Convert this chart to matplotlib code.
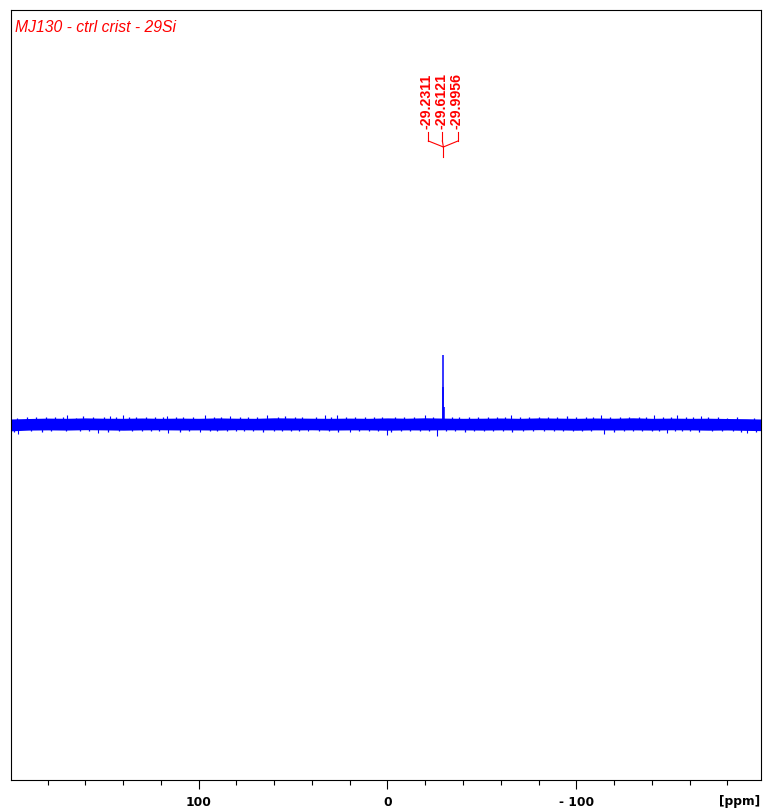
import matplotlib
matplotlib.use('Agg')
import matplotlib.pyplot as plt
import matplotlib.transforms as mtransforms

# ---- data (ppm, intensity in arbitrary units, baseline = 0) ----
title_text = 'MJ130 - ctrl crist - 29Si'

peak_ppm = [-29.2311, -29.6121, -29.9956]
peak_height = [37, 69, 17]
peak_labels = ['-29.2311', '-29.6121', '-29.9956']

# noise band envelope, read every 10 ppm
noise_ppm = [200, 190, 180, 170, 160, 150, 140, 130, 120, 110, 100, 90, 80, 70, 60,
             50, 40, 30, 20, 10, 0, -10, -20, -30, -40, -50, -60, -70, -80, -90,
             -100, -110, -120, -130, -140, -150, -160, -170, -180, -190, -200]
noise_hi = [5.0, 5.5, 5.9, 5.7, 6.1, 5.8, 5.7, 6.0, 5.7, 5.9, 5.7, 6.1, 5.8, 5.7, 6.2,
            6.0, 5.8, 5.7, 5.9, 5.7, 6.1, 5.8, 6.2, 5.9, 5.7, 5.8, 6.0, 5.7, 6.1, 5.9,
            5.7, 6.0, 5.8, 6.2, 5.7, 5.9, 5.7, 5.8, 5.5, 5.3, 4.9]
noise_lo = [-6.9, -6.1, -5.9, -6.1, -5.7, -5.9, -6.2, -5.9, -5.8, -6.0, -5.9, -6.1, -5.7,
            -5.9, -5.9, -6.0, -5.8, -6.1, -5.9, -5.9, -6.2, -5.9, -6.0, -5.8, -5.9, -6.1,
            -5.9, -6.0, -5.7, -5.9, -6.2, -5.9, -6.0, -5.9, -6.1, -5.8, -5.9, -6.2, -6.0,
            -6.4, -6.7]

# needles on the upper / lower fringe of the noise band
fringe_up_ppm = [196, 191, 186, 181, 176, 172, 165, 161, 156, 150, 144, 137, 133, 128,
                 123, 119, 112, 108, 103, 92, 88, 78, 74, 69, 58, 54, 49, 45, 38, 30,
                 22, 17, 12, 7, 3, -4, -9, -14, -24, -34, -38, -43, -48, -53, -58, -62,
                 -70, -75, -80, -85, -90, -95, -100, -105, -109, -118, -123, -128, -133,
                 -137, -146, -150, -158, -162, -170, -175, -180, -185, -194]
fringe_up_val = [6.2, 7.0, 6.6, 7.4, 6.8, 7.2, 6.5, 7.6, 6.9, 7.1, 6.6, 7.3, 6.8, 7.5,
                 6.7, 7.0, 7.4, 6.6, 7.2, 6.9, 7.5, 6.7, 7.1, 7.3, 6.8, 7.6, 6.6, 7.0,
                 7.2, 6.9, 7.4, 6.7, 7.1, 6.6, 7.3, 6.8, 7.5, 6.9, 7.0, 7.2, 6.6, 7.4,
                 6.8, 7.1, 7.5, 6.7, 7.0, 7.3, 6.6, 7.2, 6.9, 7.6, 6.8, 7.1, 7.3, 6.7,
                 7.0, 7.4, 6.6, 7.2, 6.9, 7.5, 6.8, 7.1, 6.7, 7.3, 6.5, 7.0, 6.2]
fringe_dn_ppm = [198, 189, 183, 178, 170, 163, 158, 148, 142, 135, 130, 125, 121, 110,
                 105, 94, 90, 85, 80, 76, 71, 66, 60, 56, 51, 47, 36, 31, 26, 15, 10, 5,
                 -2, -7, -12, -17, -22, -31, -36, -41, -46, -51, -56, -61, -66, -72, -77,
                 -83, -88, -93, -98, -103, -108, -120, -125, -130, -135, -140, -144,
                 -152, -156, -160, -165, -172, -177, -183, -187, -195]
fringe_dn_val = [-7.8, -7.0, -7.6, -6.8, -7.3, -7.1, -6.7, -7.5, -6.9, -7.2, -7.4, -6.8,
                 -7.1, -7.6, -6.9, -7.2, -6.7, -7.4, -7.0, -7.3, -6.8, -7.5, -7.1, -6.9,
                 -7.4, -7.0, -7.2, -6.8, -7.5, -7.1, -6.9, -7.3, -7.6, -7.0, -6.8, -7.4,
                 -7.1, -7.2, -6.9, -7.5, -7.0, -6.8, -7.3, -7.1, -7.6, -6.9, -7.2, -7.0,
                 -7.4, -6.8, -7.3, -7.1, -6.9, -7.5, -7.0, -7.2, -6.8, -7.4, -7.1, -6.9,
                 -7.3, -7.0, -7.5, -6.8, -7.2, -7.4, -7.6, -7.8]

# larger noise spikes seen on the baseline
spike_ppm = [169.8, 146.9, 140.0, 116.8, 96.6, 83.3, 63.9, 33.0, 26.6, -20.0, -65.4,
             -113.0, -141.3, -153.4, -166.0,
             195.4, 153.1, 116.0, 99.2, 42.0, 19.8, 0.3, -26.2, -114.7, -148.1, -190.5]
spike_val = [8.8, 8.2, 8.8, 8.2, 8.8, 7.8, 9.2, 8.8, 9.5, 8.8, 8.8,
             8.8, 8.8, 8.8, 8.2,
             -10.2, -8.5, -8.5, -7.5, -7.2, -7.5, -11.2, -11.5, -9.5, -8.5, -8.5]

major_ticks = [100, 0, -100]
major_labels = ['100', '0', '- 100']
minor_ticks = [180, 160, 140, 120, 80, 60, 40, 20, -20, -40, -60, -80,
               -120, -140, -160, -180]

blue = '#0000FF'
red = '#FF0000'

fig = plt.figure(figsize=(7.64, 8.12), dpi=100)
ax = fig.add_axes([10.5 / 764, 31 / 812, 750.5 / 764, 770 / 812])

# spectrum
ax.fill_between(noise_ppm, noise_lo, noise_hi, color=blue, lw=0)
ax.vlines(fringe_up_ppm, 0, fringe_up_val, color=blue, lw=0.9)
ax.vlines(fringe_dn_ppm, 0, fringe_dn_val, color=blue, lw=0.9)
ax.vlines(spike_ppm, 0, spike_val, color=blue, lw=0.8)
ax.vlines(peak_ppm, 0, peak_height, color=blue, lw=1.1)

ax.set_xlim(199.6, -197.8)
ax.set_ylim(-356, 414)

# axes styling
for s in ax.spines.values():
    s.set_linewidth(0.8)
    s.set_color('black')
ax.set_yticks([])
ax.set_xticks(major_ticks)
ax.set_xticklabels(major_labels, fontsize=8.8, fontweight='bold', family='DejaVu Sans')
ax.set_xticks(minor_ticks, minor=True)
ax.tick_params(axis='x', which='major', direction='out', length=6.3, width=0.8, pad=4.5)
ax.tick_params(axis='x', which='minor', direction='out', length=3.8, width=0.8)

ax.text(0.972, -0.0262, '[ppm]', transform=ax.transAxes, ha='center', va='center',
        fontsize=8.8, fontweight='bold', family='DejaVu Sans')

# title
ax.text(0.006, 0.979, title_text, transform=ax.transAxes, ha='left', va='center',
        fontsize=11.3, style='italic', color=red, family='Liberation Sans')

# peak labels with bracket
base = mtransforms.blended_transform_factory(ax.transData, ax.transAxes)
mid = peak_ppm[1]
text_dx = [-16.7, -1.7, 12.8]
tick_dx = [-15, -1, 14.6]
inv = fig.transFigure.inverted()
for lab, tdx, kdx in zip(peak_labels, text_dx, tick_dx):
    tr = base + mtransforms.ScaledTranslation(tdx / 100, 0, fig.dpi_scale_trans)
    ax.text(mid, 0.8468, lab, transform=tr, rotation=90, ha='center', va='bottom',
            fontsize=10.2, fontweight='bold', color=red, family='Liberation Sans')
    tk = base + mtransforms.ScaledTranslation(kdx / 100, 0, fig.dpi_scale_trans)
    ax.plot([mid, mid], [0.8416, 0.8299], transform=tk, color=red, lw=0.8)
    # diagonal from label tick to common stem
    a0 = inv.transform(tk.transform((mid, 0.8299)))
    a1 = inv.transform(base.transform((mid, 0.8221)))
    fig.add_artist(plt.Line2D([a0[0], a1[0]], [a0[1], a1[1]], transform=fig.transFigure,
                              color=red, lw=0.8))
ax.plot([mid, mid], [0.8221, 0.8091], transform=base, color=red, lw=0.8)

fig.savefig('out.png', dpi=100)
